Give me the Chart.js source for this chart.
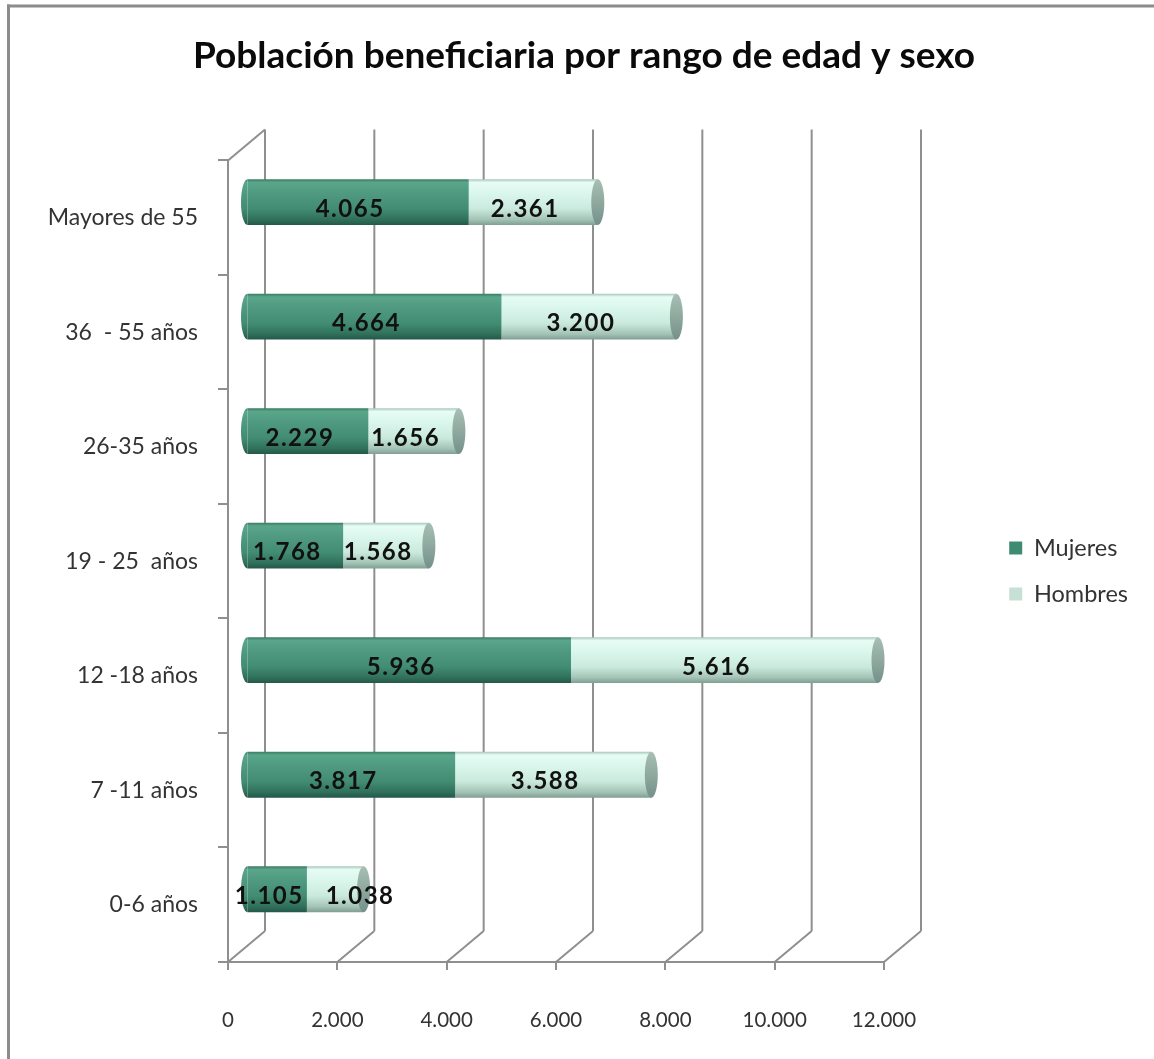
<!DOCTYPE html>
<html><head><meta charset="utf-8">
<script src="https://cdn.jsdelivr.net/npm/chart.js@4/dist/chart.umd.min.js"></script>
<style>html,body{margin:0;padding:0;background:#fff}</style>
</head><body>
<canvas id="c" width="1154" height="1059"></canvas>
<script>
// ---- data ----
const titleText = 'Población beneficiaria por rango de edad y sexo';
const categories = ['Mayores de 55', '36  - 55 años', '26-35 años', '19 - 25  años', '12 -18 años', '7 -11 años', '0-6 años'];
const seriesNames = ['Mujeres', 'Hombres'];
const mujeres = [4065, 4664, 2229, 1768, 5936, 3817, 1105];
const hombres = [2361, 3200, 1656, 1568, 5616, 3588, 1038];
const xTickValues = [0, 2000, 4000, 6000, 8000, 10000, 12000];

// ---- style ----
const W = 1154, H = 1059;
const PAD_L = 30, PAD_R = 16;
const FONT = 'Lato, "Open Sans", sans-serif';
const DX = 37, DY = -31;          // 3D depth
const RX = 6.5;                    // cylinder cap radius
const AXIS = '#8f8f8f';
const MUJ = [[0,'#3a7b64'],[0.07,'#5aa68b'],[0.3,'#4f9a80'],[0.65,'#428c73'],[0.88,'#30705a'],[1,'#23574a']];
const HOM = [[0,'#a9c7bc'],[0.07,'#e6fcf4'],[0.3,'#dbf7ed'],[0.65,'#cae9dd'],[0.88,'#a3c3b7'],[1,'#809e93']];
const CAP = [[0,'#a7bfb5'],[0.5,'#8fa99f'],[1,'#74908a']];
const legendColors = ['#3f8b72', '#c6e0d6'];
const fmt = v => String(v).replace(/\B(?=(\d{3})+(?!\d))/g, '.');

function makeGrad(c, y, h, stops) {
  const g = c.createLinearGradient(0, y - h / 2, 0, y + h / 2);
  stops.forEach(([o, col]) => g.addColorStop(o, col));
  return g;
}
function barGrad(stops) {
  return (ctx) => {
    const chart = ctx.chart, ys = chart.scales.y;
    if (!ys || !chart.chartArea) return stops[2][1];
    const y = ys.getPixelForValue(ctx.dataIndex);
    const h = Math.abs(ys.getPixelForValue(1) - ys.getPixelForValue(0)) * 0.4;
    return makeGrad(chart.ctx, y, h, stops);
  };
}

const deco = {
  id: 'deco',
  beforeDraw(chart) {
    const c = chart.ctx;
    c.save();
    c.fillStyle = '#fff'; c.fillRect(0, 0, W, H);
    c.fillStyle = '#8c8c8c';
    c.fillRect(7, 4.5, W, 3);
    c.fillRect(7, 4.5, 3, H);
    c.restore();
  },
  beforeDatasetsDraw(chart) {
    const c = chart.ctx, a = chart.chartArea, xs = chart.scales.x;
    c.save();
    c.strokeStyle = AXIS; c.lineWidth = 2;
    c.beginPath();
    c.moveTo(a.left, a.top); c.lineTo(a.left + DX, a.top + DY);
    xs.ticks.forEach(t => {
      const px = xs.getPixelForValue(t.value);
      c.moveTo(px + DX, a.top + DY); c.lineTo(px + DX, a.bottom + DY);
      c.moveTo(px, a.bottom); c.lineTo(px + DX, a.bottom + DY);
    });
    c.stroke();
    c.restore();
    c.save();
    c.translate(DX / 2, DY / 2);
  },
  afterDatasetsDraw(chart) {
    const c = chart.ctx;
    const m0 = chart.getDatasetMeta(0), m1 = chart.getDatasetMeta(1);
    m0.data.forEach(bar => {
      const p = bar.getProps(['y', 'base', 'height'], true);
      c.fillStyle = makeGrad(c, p.y, p.height, MUJ);
      c.beginPath(); c.ellipse(p.base, p.y, RX, p.height / 2, 0, Math.PI / 2, Math.PI * 1.5); c.fill();
    });
    m1.data.forEach(bar => {
      const p = bar.getProps(['x', 'y', 'height'], true);
      c.fillStyle = makeGrad(c, p.y, p.height, CAP);
      c.beginPath(); c.ellipse(p.x, p.y, RX, p.height / 2, 0, 0, Math.PI * 2); c.fill();
    });
    c.font = 'bold 24px ' + FONT;
    c.fillStyle = '#111';
    c.textAlign = 'center'; c.textBaseline = 'middle';
    try { c.letterSpacing = '1.5px'; } catch (e) {}
    const LBL_DX = -8, GAP = 22;
    m0.data.forEach((bar0, i) => {
      const bar1 = m1.data[i];
      const p0 = bar0.getProps(['x', 'y', 'base'], true);
      const p1 = bar1.getProps(['x', 'y', 'base'], true);
      const t0 = fmt(chart.data.datasets[0].data[i]);
      const t1 = fmt(chart.data.datasets[1].data[i]);
      const w0 = c.measureText(t0).width, w1 = c.measureText(t1).width;
      const cx0 = (p0.x + p0.base) / 2 + LBL_DX;
      let cx1 = (p1.x + p1.base) / 2 + LBL_DX;
      const minCx1 = cx0 + w0 / 2 + GAP + w1 / 2;
      if (cx1 < minCx1) cx1 = minCx1;
      c.fillText(t0, cx0, p0.y + 7);
      c.fillText(t1, cx1, p1.y + 7);
    });
    try { c.letterSpacing = '0px'; } catch (e) {}
    c.restore();
  }
};

new Chart(document.getElementById('c'), {
  type: 'bar',
  data: {
    labels: categories,
    datasets: [
      { label: seriesNames[0], data: mujeres, backgroundColor: barGrad(MUJ), borderWidth: 0, barPercentage: 0.4, categoryPercentage: 1, clip: false },
      { label: seriesNames[1], data: hombres, backgroundColor: barGrad(HOM), borderWidth: 0, barPercentage: 0.4, categoryPercentage: 1, clip: false }
    ]
  },
  options: {
    indexAxis: 'y',
    responsive: false,
    animation: false,
    devicePixelRatio: 1,
    layout: { padding: { left: PAD_L, right: PAD_R, top: 10, bottom: 0 } },
    plugins: {
      title: { display: true, text: titleText, color: '#0a0a0a', font: { family: FONT, size: 37, weight: 'bold' }, padding: { top: 24, bottom: 82 } },
      legend: {
        position: 'right',
        title: { display: true, text: ' ', font: { size: 10 }, padding: { top: 61, bottom: 0 } },
        labels: {
          boxWidth: 13, boxHeight: 13, padding: 22.5, color: '#333', font: { family: FONT, size: 23.5 },
          generateLabels: (chart) => chart.data.datasets.map((d, i) => ({ text: d.label, fillStyle: legendColors[i], strokeStyle: legendColors[i], lineWidth: 0, hidden: false, datasetIndex: i, fontColor: '#333' }))
        }
      },
      tooltip: { enabled: false }
    },
    scales: {
      x: {
        type: 'linear', stacked: true, min: 0, max: 12000,
        afterBuildTicks: s => { s.ticks = xTickValues.map(v => ({ value: v })); },
        ticks: { callback: v => fmt(v), color: '#333', font: { family: FONT, size: 20.5 }, padding: 38, maxRotation: 0 },
        grid: { drawOnChartArea: false, tickLength: 8, color: AXIS, lineWidth: 2 },
        border: { color: AXIS, width: 2 },
        afterFit: s => { s.height = H - 962; }
      },
      y: {
        type: 'category', stacked: true,
        ticks: { color: '#333', font: { family: FONT, size: 23 }, padding: 20 },
        grid: { drawOnChartArea: false, tickLength: 10, color: AXIS, lineWidth: 2, offset: true },
        border: { color: AXIS, width: 2 },
        afterFit: s => { s.width = 228 - PAD_L; }
      },
      yR: {
        type: 'category', position: 'right', display: true,
        ticks: { display: false }, grid: { display: false }, border: { display: false },
        afterFit: s => { const lw = s.chart.legend ? s.chart.legend.width : 0; s.width = (W - PAD_R - lw) - 884; }
      }
    }
  },
  plugins: [deco]
});
</script>
</body></html>
